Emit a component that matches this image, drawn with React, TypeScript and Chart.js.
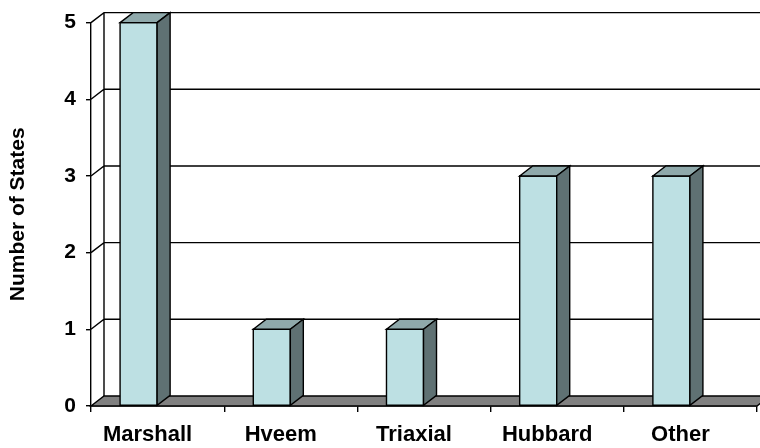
import { useEffect, useRef } from "react";
import { Chart, registerables } from "chart.js";

Chart.register(...registerables);

const categories = ["Marshall", "Hveem", "Triaxial", "Hubbard", "Other"];
const stateCounts = [5, 1, 1, 3, 3];
const yTickValues = [0, 1, 2, 3, 4, 5];
const yAxisTitle = "Number of States";

const FONT = "'Liberation Sans', Arial, Helvetica, sans-serif";
const DEPTH_X = 13;
const DEPTH_Y = -10;
const BAR_SHIFT = 19;
const FRONT_COLOR = "#bde0e3";
const TOP_COLOR = "#8fa9ab";
const SIDE_COLOR = "#5f7173";
const FLOOR_COLOR = "#808080";
const LINE_W = 1.4;

const box3d = {
  id: "box3d",
  beforeDatasetsDraw(chart: any) {
    const { ctx, chartArea, scales } = chart;
    const y = scales.y;
    const L = chartArea.left;
    const R = chartArea.right;
    const y0 = y.getPixelForValue(0);
    const yTop = y.getPixelForValue(y.max);
    ctx.save();
    ctx.strokeStyle = "#000";
    ctx.lineWidth = LINE_W;
    ctx.beginPath();
    ctx.moveTo(L + DEPTH_X, yTop + DEPTH_Y);
    ctx.lineTo(L + DEPTH_X, y0 + DEPTH_Y);
    for (const v of yTickValues) {
      if (v === 0) continue;
      const py = y.getPixelForValue(v);
      ctx.moveTo(L, py);
      ctx.lineTo(L + DEPTH_X, py + DEPTH_Y);
      ctx.lineTo(R + DEPTH_X, py + DEPTH_Y);
    }
    ctx.stroke();
    // floor
    ctx.beginPath();
    ctx.moveTo(L, y0);
    ctx.lineTo(R, y0);
    ctx.lineTo(R + DEPTH_X, y0 + DEPTH_Y);
    ctx.lineTo(L + DEPTH_X, y0 + DEPTH_Y);
    ctx.closePath();
    ctx.fillStyle = FLOOR_COLOR;
    ctx.fill();
    ctx.stroke();
    ctx.restore();
  },
  afterDatasetsDraw(chart: any) {
    const { ctx } = chart;
    const meta = chart.getDatasetMeta(0);
    ctx.save();
    ctx.strokeStyle = "#000";
    ctx.lineWidth = LINE_W;
    ctx.lineJoin = "miter";
    meta.data.forEach((bar: any) => {
      const { x, y, base, width } = bar.getProps(["x", "y", "base", "width"], true);
      const l = x - width / 2 - BAR_SHIFT;
      const r = l + width;
      // front
      ctx.beginPath();
      ctx.rect(l, y, width, base - y);
      ctx.fillStyle = FRONT_COLOR;
      ctx.fill();
      ctx.stroke();
      // top
      ctx.beginPath();
      ctx.moveTo(l, y);
      ctx.lineTo(r, y);
      ctx.lineTo(r + DEPTH_X, y + DEPTH_Y);
      ctx.lineTo(l + DEPTH_X, y + DEPTH_Y);
      ctx.closePath();
      ctx.fillStyle = TOP_COLOR;
      ctx.fill();
      ctx.stroke();
      // side
      ctx.beginPath();
      ctx.moveTo(r, y);
      ctx.lineTo(r + DEPTH_X, y + DEPTH_Y);
      ctx.lineTo(r + DEPTH_X, base + DEPTH_Y);
      ctx.lineTo(r, base);
      ctx.closePath();
      ctx.fillStyle = SIDE_COLOR;
      ctx.fill();
      ctx.stroke();
    });
    ctx.restore();
  },
};

export default function App() {
  const canvasRef = useRef<HTMLCanvasElement | null>(null);

  useEffect(() => {
    if (!canvasRef.current) return;
    const chart = new Chart(canvasRef.current, {
      type: "bar",
      data: {
        labels: categories,
        datasets: [
          {
            label: yAxisTitle,
            data: stateCounts,
            backgroundColor: "rgba(0,0,0,0)",
            borderWidth: 0,
            barPercentage: 0.278,
            categoryPercentage: 1,
          },
        ],
      },
      options: {
        animation: false,
        responsive: true,
        maintainAspectRatio: false,
        layout: { padding: { left: 0, right: 3, top: 19.5, bottom: 0 } },
        plugins: {
          legend: { display: false },
          tooltip: { enabled: false },
          title: { display: false },
        },
        scales: {
          x: {
            type: "category",
            offset: true,
            grid: {
              offset: true,
              drawOnChartArea: false,
              drawTicks: true,
              tickLength: 6,
              color: "#000",
              lineWidth: LINE_W,
            },
            border: { display: true, color: "#000", width: LINE_W },
            ticks: {
              color: "#000",
              font: { family: FONT, size: 22, weight: "bold" },
              padding: 10,
              labelOffset: -10,
              maxRotation: 0,
              autoSkip: false,
            },
            afterFit: (scale: any) => {
              scale.height = 42;
            },
          },
          y: {
            type: "linear",
            min: 0,
            max: 5,
            grid: {
              drawOnChartArea: false,
              drawTicks: true,
              tickLength: 5,
              color: "#000",
              lineWidth: LINE_W,
            },
            border: { display: true, color: "#000", width: LINE_W },
            ticks: {
              stepSize: 1,
              color: "#000",
              font: { family: FONT, size: 21, weight: "bold" },
              padding: 10,
            },
            title: {
              display: true,
              text: yAxisTitle,
              color: "#000",
              font: { family: FONT, size: 21, weight: "bold" },
              padding: { top: 6, bottom: 0 },
            },
            afterFit: (scale: any) => {
              scale.width = 91;
            },
          },
        },
      },
      plugins: [box3d],
    });
    return () => chart.destroy();
  }, []);

  return (
    <div style={{ position: "absolute", left: 0, top: 0, width: 760, height: 448 }}>
      <canvas ref={canvasRef} />
    </div>
  );
}
